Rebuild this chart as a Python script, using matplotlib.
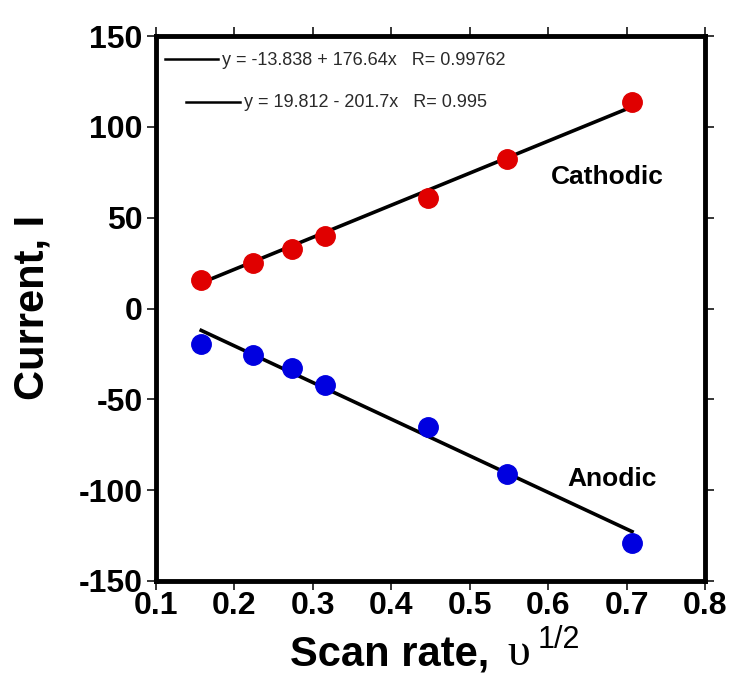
import numpy as np
import matplotlib
matplotlib.use("Agg")
import matplotlib.pyplot as plt

scan_rate_sqrt = [0.158, 0.224, 0.274, 0.316, 0.447, 0.548, 0.707]
cathodic = [15.7, 25, 33, 40, 60.8, 82.3, 113.8]
anodic = [-19.5, -25.6, -33, -42, -65.5, -91, -128.9]
cat_fit = (-13.838, 176.64)
ano_fit = (19.812, -201.7)
eq_cat = "y = -13.838 + 176.64x   R= 0.99762"
eq_ano = "y = 19.812 - 201.7x   R= 0.995"
xticks = [0.1, 0.2, 0.3, 0.4, 0.5, 0.6, 0.7, 0.8]
yticks = [-150, -100, -50, 0, 50, 100, 150]

plt.rcParams['font.family'] = ['Liberation Sans', 'DejaVu Sans']

W, H = 733, 679
fig = plt.figure(figsize=(W / 100, H / 100), dpi=100)
ax = fig.add_axes([155.7 / W, 1 - 581 / H, 549.3 / W, 545 / H])

x = np.array(scan_rate_sqrt)
xl = np.array([x.min(), x.max()])
ax.plot(xl, cat_fit[0] + cat_fit[1] * xl, color='black', lw=2.6, zorder=2)
ax.plot(xl, ano_fit[0] + ano_fit[1] * xl, color='black', lw=2.6, zorder=2)
ax.plot(x, cathodic, 'o', color='#e00000', ms=14, mec='#e00000', zorder=3)
ax.plot(x, anodic, 'o', color='#0000e0', ms=14, mec='#0000e0', zorder=3)

ax.set_xlim(0.1, 0.8)
ax.set_ylim(-150, 150)
ax.set_xticks(xticks)
ax.set_yticks(yticks)
ax.set_xticklabels([f"{t:g}" for t in xticks])
ax.set_yticklabels([f"{t:g}" for t in yticks])
for s in ax.spines.values():
    s.set_linewidth(3.5)
ax.tick_params(direction='out', length=6.5, width=1.1, labelsize=23,
               top=True, right=True)
ax.tick_params(axis='x', pad=1)
ax.tick_params(axis='y', pad=3)
for lab in ax.get_xticklabels() + ax.get_yticklabels():
    lab.set_fontweight('bold')

# legend-like equations
ax.plot([0.1119, 0.1794], [137.3, 137.3], color='black', lw=1.8)
ax.text(0.1845, 136.6, eq_cat, fontsize=13, color='#2a2a2a', va='center', ha='left')
ax.plot([0.1386, 0.2074], [113.8, 113.8], color='black', lw=1.8)
ax.text(0.2125, 113.2, eq_ano, fontsize=13, color='#2a2a2a', va='center', ha='left')

ax.text(0.675, 72.4, "Cathodic", fontsize=19, fontweight='bold', ha='center', va='center')
ax.text(0.6816, -93.9, "Anodic", fontsize=19, fontweight='bold', ha='center', va='center')

fig.text(12 / W, 1 - 307.5 / H, "Current, I", rotation=90, fontsize=30, fontweight='bold',
         ha='left', va='center')
fig.text(389.5 / W, 1 - 665 / H, "Scan rate,", fontsize=30, fontweight='bold',
         ha='center', va='baseline')
fig.text(507 / W, 1 - 665 / H, "\u03c5", fontsize=33, ha='left', va='baseline',
         family=['Liberation Serif', 'DejaVu Serif'])
fig.text(538 / W, 1 - 648 / H, "1/2", fontsize=22, ha='left', va='baseline')

fig.savefig("out.png", dpi=100)
